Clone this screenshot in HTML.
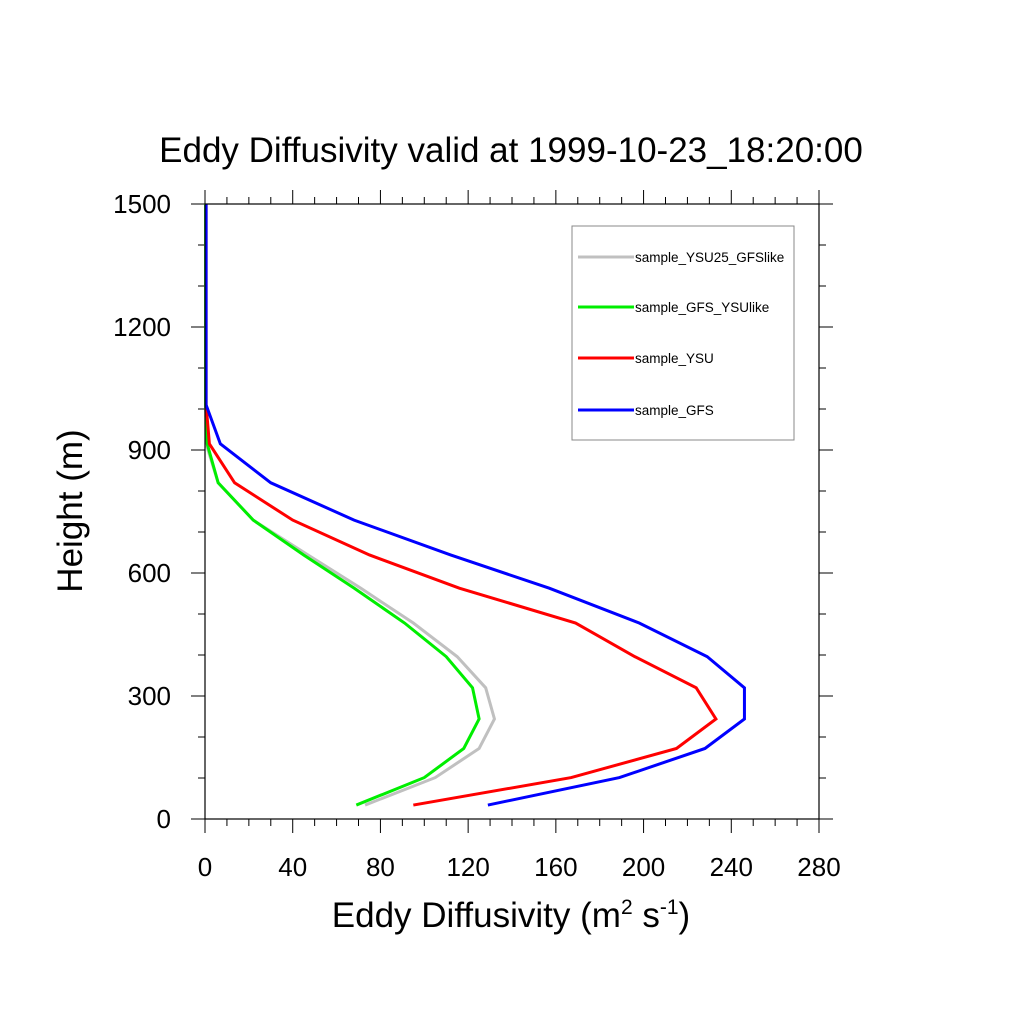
<!DOCTYPE html>
<html><head><meta charset="utf-8"><style>body{margin:0;background:#fff}svg{display:block;font-family:"Liberation Sans",sans-serif}</style></head>
<body>
<svg id="chart" width="1024" height="1024" viewBox="0 0 1024 1024">
<rect width="1024" height="1024" fill="#fff"/>
<text x="511" y="162" font-size="35" text-anchor="middle">Eddy Diffusivity valid at 1999-10-23_18:20:00</text>
<g id="axes"></g>
<g id="series"></g>
<rect x="205" y="204" width="614" height="615" fill="none" stroke="#000" stroke-width="1.2"/>
<text x="511" y="927" font-size="35" text-anchor="middle">Eddy Diffusivity (m<tspan dy="-13" font-size="21">2</tspan><tspan dy="13"> s</tspan><tspan dy="-13" font-size="21">-1</tspan><tspan dy="13">)</tspan></text>
<text transform="translate(82,511) rotate(-90)" font-size="35" text-anchor="middle">Height (m)</text>
<g>
<rect x="572" y="226" width="222" height="214" fill="#fff" stroke="#888" stroke-width="1"/>
<g id="legend"></g>
</g>
</svg>
<script>
const heights=[34,101,172,244,320,396,478,563,644,729,820,915,1010,1110,1215,1320,1430,1500];
const sGFS=[129,189,228,246,246,229,198,157,112,68,30,7,0.5,0.5,0.5,0.5,0.5,0.5];
const sYSU=[95,167,215,233,224,196,169,116,75,40,13.5,2,0.5,0.5,0.5,0.5,0.5,0.5];
const sGFSYSU=[69,100,118,125,122,110,91,68,45,22,6,1,0.3,0.3,0.3,0.3,0.3,0.3];
const sYSU25=[73,105,125,132,128,115,95,71,47,22,6,0.5,0.3,0.3,0.3,0.3,0.3,0.3];
const seriesNames=["sample_YSU25_GFSlike","sample_GFS_YSUlike","sample_YSU","sample_GFS"];
const seriesColors=["#c0c0c0","#00ee00","#ff0000","#0000ff"];
const xTicks=[0,40,80,120,160,200,240,280];
const yTicks=[0,300,600,900,1200,1500];
const X=v=>205+v*614/280, Y=v=>819-v*615/1500;
const NS="http://www.w3.org/2000/svg";
function mk(t,a,p){const e=document.createElementNS(NS,t);for(const k in a)e.setAttribute(k,a[k]);p.appendChild(e);return e;}
const ax=document.getElementById('axes');
for(let v=0;v<=280;v+=10){const maj=v%40===0,L=maj?14:7,x=X(v);
 const t1=mk('line',{x1:x,x2:x,y1:819,y2:819+L,stroke:'#000','stroke-width':1},ax);
 
 
 const t2=mk('line',{x1:x,x2:x,y1:204,y2:204-L,stroke:'#000','stroke-width':1},ax);
 
 }
for(let v=0;v<=1500;v+=100){const maj=v%300===0,L=maj?14:7,y=Y(v);
 const t1=mk('line',{x1:205-L,x2:205,y1:y,y2:y,stroke:'#000','stroke-width':1},ax);
 
 
 const t2=mk('line',{x1:819,x2:819+L,y1:y,y2:y,stroke:'#000','stroke-width':1},ax);
 
 }
xTicks.forEach(v=>{const t=mk('text',{x:X(v),y:876,'font-size':26,'text-anchor':'middle'},ax);t.textContent=v;
 
 });
yTicks.forEach(v=>{const t=mk('text',{x:171,y:Y(v)+9,'font-size':26,'text-anchor':'end'},ax);t.textContent=v;
 
 });
const sg=document.getElementById('series');
[sYSU25,sGFSYSU,sYSU,sGFS].forEach((s,i)=>{
 const p=mk('polyline',{points:s.map((v,j)=>X(v)+','+Y(heights[j])).join(' '),fill:'none',stroke:seriesColors[i],'stroke-width':3,'stroke-linejoin':'miter'},sg);
 
 });
const lg=document.getElementById('legend');
const ly=[257,307,358,410];
seriesNames.forEach((n,i)=>{
 const l=mk('line',{x1:578,x2:634,y1:ly[i],y2:ly[i],stroke:seriesColors[i],'stroke-width':3},lg);
 
 
 const t=mk('text',{x:635,y:ly[i]+5,'font-size':13.5},lg);t.textContent=n;
 
 });
</script>
</body></html>
